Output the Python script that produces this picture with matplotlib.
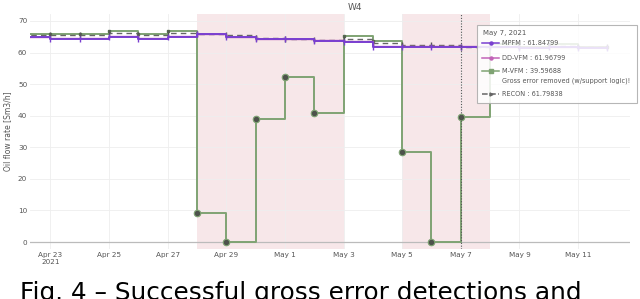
import numpy as np
import pandas as pd
import matplotlib
matplotlib.use("Agg")
import matplotlib.pyplot as plt
from matplotlib.patches import Rectangle
from matplotlib.lines import Line2D

# daily samples, step shape (value holds until next day)
days = pd.date_range("2021-04-22", "2021-05-12", freq="D")

mpfm = [64.8, 64.3, 64.3, 65.0, 64.3, 65.0, 65.9, 64.9, 64.3, 64.2, 63.8,
        63.2, 61.9, 61.9, 61.9, 61.84799, 61.6, 61.4, 61.6, 61.4, 61.4]
ddvfm = [65.0, 64.6, 64.6, 65.2, 64.6, 65.2, 65.9, 65.0, 64.4, 64.3, 64.0,
         63.5, 62.1, 62.0, 62.0, 61.96799, 61.8, 61.6, 61.8, 61.6, 61.6]
mvfm = [66.0, 65.9, 65.9, 66.8, 65.9, 66.8, 9.3, 0.0, 38.8, 52.4, 40.8,
        65.2, 63.8, 28.4, 0.0, 39.59688, 62.6, 61.9, 62.6, 61.9, 61.9]
recon = [65.5, 65.4, 65.4, 66.1, 65.4, 66.1, 65.9, 65.6, 64.6, 64.4, 64.1,
         64.3, 63.0, 62.4, 62.3, 61.79838, 62.2, 61.8, 62.2, 61.8, 61.8]

gross_err_days = ["2021-04-28", "2021-04-29", "2021-04-30", "2021-05-01",
                  "2021-05-02", "2021-05-05", "2021-05-06", "2021-05-07"]
shade_spans = [("2021-04-28", "2021-05-03"), ("2021-05-05", "2021-05-08")]
hover_day = "2021-05-07"

tick_days = pd.date_range("2021-04-23", "2021-05-11", freq="2D")
tick_labels = ["Apr 23\n2021", "Apr 25", "Apr 27", "Apr 29", "May 1",
               "May 3", "May 5", "May 7", "May 9", "May 11"]

c_mpfm = "#7a3fd0"
c_dd = "#c264b8"
c_mvfm = "#7fa373"
c_recon = "#666666"
c_txt = "#555555"

fig = plt.figure(figsize=(6.4, 2.99), dpi=100)
ax = fig.add_axes([30 / 640, 1 - 249 / 299, 600 / 640, 235 / 299])

for a, b in shade_spans:
    ax.axvspan(pd.Timestamp(a), pd.Timestamp(b), color="#f5dfe2", alpha=0.75,
               lw=0, zorder=0)

ax.step(days, mvfm, where="post", color=c_mvfm, lw=1.4, zorder=3)
ax.plot(days, mvfm, ls="none", marker="s", ms=2, color="#556b50", zorder=3)
ax.step(days, recon, where="post", color=c_recon, lw=1.0, ls=(0, (4, 3)), zorder=4)
ax.plot(days, recon, ls="none", marker="|", ms=4, color="#555555", zorder=4)
ax.step(days, ddvfm, where="post", color=c_dd, lw=1.0, zorder=5)
ax.step(days, mpfm, where="post", color=c_mpfm, lw=1.4, zorder=5)
ax.plot(days, mpfm, ls="none", marker="|", ms=4, color=c_mpfm, zorder=5)

ge = pd.to_datetime(gross_err_days)
ge_vals = [mvfm[list(days).index(d)] for d in ge]
ax.scatter(ge, ge_vals, s=22, marker="o", color="#4d524b", edgecolor="#7fa373",
           lw=0.8, zorder=6)

ax.axvline(pd.Timestamp(hover_day), color="#555555", lw=0.8, ls=(0, (1, 1.5)), zorder=7)

x0 = pd.Timestamp("2021-04-23") - pd.Timedelta(hours=16.6)
x1 = pd.Timestamp("2021-04-23") + pd.Timedelta(days=19.77)
ax.set_xlim(x0, x1)
ax.set_ylim(-2.2, 72.2)

ax.set_xticks(tick_days)
ax.set_xticklabels(tick_labels)
ax.set_yticks(np.arange(0, 71, 10))
ax.tick_params(length=0, labelsize=5.2, labelcolor=c_txt)
ax.tick_params(axis="x", pad=2)
ax.tick_params(axis="y", pad=2)
ax.grid(True, color="#eeeeee", lw=0.6, zorder=0)
ax.set_axisbelow(True)
ax.axhline(0, color="#bbbbbb", lw=0.9, zorder=1)
for s in ax.spines.values():
    s.set_visible(False)

ax.set_ylabel("Oil flow rate [Sm3/h]", fontsize=5.5, color=c_txt, labelpad=4)
fig.text(355 / 640, 1 - 7 / 299, "W4", ha="center", va="center",
         fontsize=6.5, color=c_txt)

# hover label box
bx0, by0, bx1, by1 = 477, 25, 637, 103
fig.add_artist(Rectangle((bx0 / 640, 1 - by1 / 299), (bx1 - bx0) / 640,
                         (by1 - by0) / 299, transform=fig.transFigure,
                         facecolor="white", edgecolor="#aaaaaa", lw=0.8,
                         alpha=0.85, zorder=10))

def fx(px):
    return px / 640

def fy(py):
    return 1 - py / 299

fs_hov = 4.7
hi = list(days).index(pd.Timestamp(hover_day))
fig.text(fx(483), fy(33), "May 7, 2021", fontsize=fs_hov + 0.3, color=c_txt,
         va="center", zorder=11)
rows = [
    (43, c_mpfm, "-", "o", f"MPFM : {mpfm[hi]:.5f}"),
    (58, c_dd, "-", "o", f"DD-VFM : {ddvfm[hi]:.5f}"),
    (71, c_mvfm, "-", "s", f"M-VFM : {mvfm[hi]:.5f}"),
    (94, c_recon, "--", ">", f"RECON : {recon[hi]:.5f}"),
]
for py, col, ls, mk, label in rows:
    fig.add_artist(Line2D([fx(482), fx(499)], [fy(py), fy(py)], color=col,
                          ls=ls, lw=1.1, transform=fig.transFigure, zorder=11))
    fig.add_artist(Line2D([fx(490.5)], [fy(py)], color=col, marker=mk, ms=2.2,
                          transform=fig.transFigure, zorder=11))
    fig.text(fx(502), fy(py), label, fontsize=fs_hov, color=c_txt, va="center",
             zorder=11)
fig.text(fx(502), fy(80.5), "Gross error removed (w/support logic)!",
         fontsize=fs_hov, color=c_txt, va="center", zorder=11)

# caption (cut by the crop, as in the source image)
fig.text(20 / 640, 1 - 281 / 299, "Fig. 4 \u2013 Successful gross error detections and",
         fontsize=17.8, color="black", va="top", ha="left")

fig.savefig("out.png", dpi=100)
